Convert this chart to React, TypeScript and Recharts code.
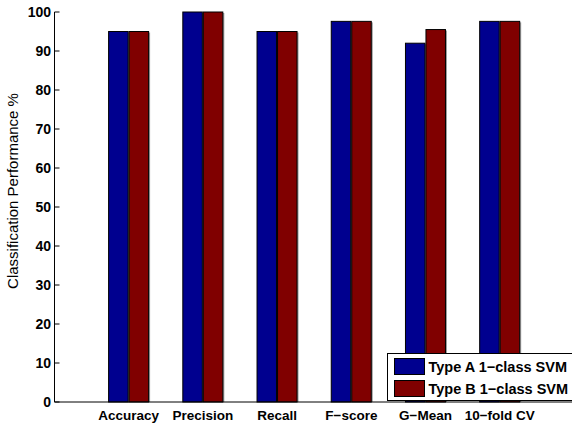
import React from 'react';
import { BarChart, Bar, XAxis, YAxis } from 'recharts';

const categories = ['Accuracy', 'Precision', 'Recall', 'F\u2212score', 'G\u2212Mean', '10\u2212fold CV'];
const typeA = [95, 100, 95, 97.6, 92, 97.6];
const typeB = [95, 100, 95, 97.6, 95.5, 97.6];
const yTicks = [0, 10, 20, 30, 40, 50, 60, 70, 80, 90, 100];
const seriesNames = ['Type A 1\u2212class SVM', 'Type B 1\u2212class SVM'];

const BLUE = '#00008f';
const RED = '#800000';
const FONT = '"Liberation Sans", Arial, Helvetica, sans-serif';

const data = categories.map((name, i) => ({ name, typeA: typeA[i], typeB: typeB[i] }));

// matlab-ish bar: black edge plus a grey shade on the right
const ShadedBar = (props: any) => {
  const { x, y, width, height, fill } = props;
  if (!height) return null;
  return (
    <g>
      <rect x={x + width} y={y + 1} width={1.5} height={height - 1} fill="#9a9a9a" />
      <rect x={x} y={y} width={width} height={height} fill={fill} stroke="#000" strokeWidth={1} />
    </g>
  );
};

const YLabel = () => (
  <text
    x={12}
    y={191}
    transform="rotate(-90 12 191)"
    textAnchor="middle"
    dominantBaseline="central"
    style={{ fontFamily: FONT, fontSize: 15, fill: '#000' }}
  >
    Classification  Performance %
  </text>
);

const tickStyle = { fontFamily: FONT, fontSize: 14, fontWeight: 700, fill: '#000' };
const pad = { left: 37.1, right: 37.1 };

export default function App() {
  return (
    <div style={{ position: 'absolute', left: 0, top: 0, width: 572, height: 423, overflow: 'hidden', background: '#fff' }}>
      <BarChart
        width={600}
        height={423}
        data={data}
        margin={{ top: 12, right: 26, bottom: 0, left: 0 }}
        barSize={19.5}
        barGap={1}
      >
        <XAxis
          dataKey="name"
          padding={pad}
          axisLine={{ stroke: '#000' }}
          tickLine={false}
          tickSize={0}
          tickMargin={8}
          height={21}
          interval={0}
          tick={{ ...tickStyle, fontSize: 13.5 }}
        />
        <XAxis
          xAxisId="top"
          dataKey="name"
          orientation="top"
          padding={pad}
          height={0}
          axisLine={{ stroke: '#000' }}
          tickLine={{ stroke: '#000' }}
          tickSize={-5}
          interval={0}
          tickFormatter={() => ''}
        />
        <YAxis
          domain={[0, 100]}
          ticks={yTicks}
          width={54.5}
          axisLine={{ stroke: '#000' }}
          tickLine={{ stroke: '#000' }}
          tickSize={-5}
          tickMargin={8.5}
          tick={tickStyle}
          label={{ content: () => <YLabel /> }}
        />
        <YAxis
          yAxisId="right"
          orientation="right"
          domain={[0, 100]}
          ticks={yTicks}
          width={0}
          axisLine={{ stroke: '#000' }}
          tickLine={{ stroke: '#000' }}
          tickSize={-5}
          tickFormatter={() => ''}
        />
        <Bar dataKey="typeA" name={seriesNames[0]} fill={BLUE} shape={<ShadedBar />} isAnimationActive={false} />
        <Bar dataKey="typeB" name={seriesNames[1]} fill={RED} shape={<ShadedBar />} isAnimationActive={false} />
      </BarChart>
      <div
        style={{
          position: 'absolute',
          left: 386.5,
          top: 353,
          width: 200,
          height: 48,
          border: '1px solid #000',
          background: '#fff',
          boxSizing: 'border-box',
          paddingTop: 4,
          fontFamily: FONT,
          fontSize: 14.5,
          fontWeight: 700,
        }}
      >
        {seriesNames.map((n, i) => (
          <div key={n} style={{ display: 'flex', alignItems: 'center', height: 17, marginBottom: 5 }}>
            <div
              style={{
                width: 31,
                height: 17,
                marginLeft: 6,
                marginRight: 4,
                background: i === 0 ? BLUE : RED,
                border: '1px solid #000',
                boxSizing: 'border-box',
              }}
            />
            <span style={{ whiteSpace: 'nowrap' }}>{n}</span>
          </div>
        ))}
      </div>
    </div>
  );
}
